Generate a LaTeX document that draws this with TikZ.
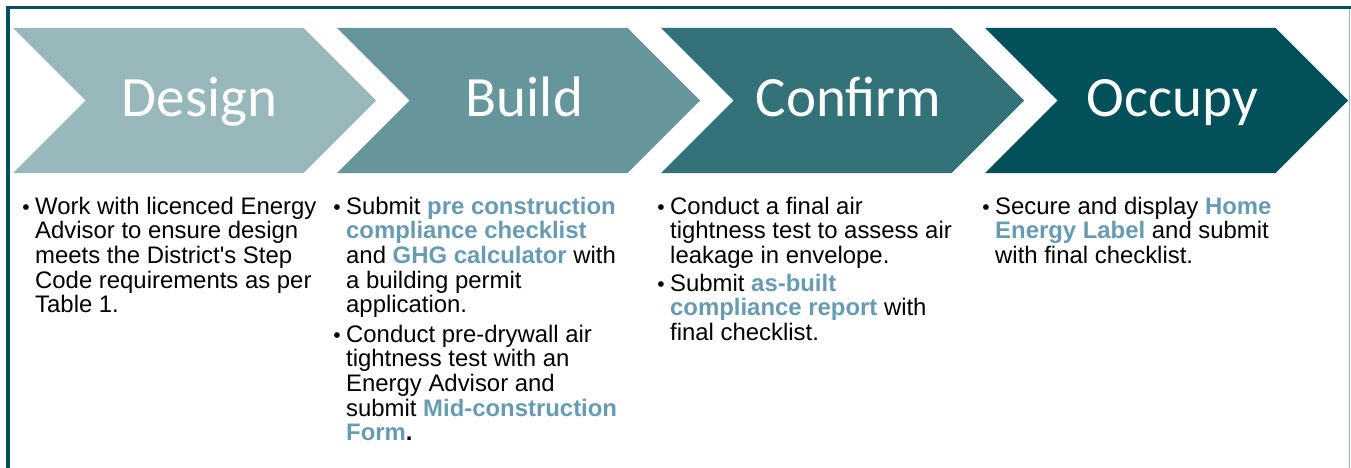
\documentclass[tikz,border=0pt]{standalone}
\usepackage{fontspec}
\setmainfont{Liberation Sans}
\newfontfamily\phasefont{Carlito}
\usepackage{tikz}
\usetikzlibrary{
  shapes.symbols,
  positioning
}
\definecolor{frameteal}{RGB}{2,80,90}
\definecolor{framegray}{RGB}{153,184,188}
\definecolor{designfill}{RGB}{153,184,188}
\definecolor{buildfill}{RGB}{102,149,155}
\definecolor{confirmfill}{RGB}{52,114,122}
\definecolor{occupyfill}{RGB}{2,80,90}
\definecolor{linkblue}{RGB}{102,155,178}
\newcommand{\hl}[1]{{\bfseries\color{linkblue}#1}}
\newcommand{\steplines}[1]{\begin{tabular}[t]{@{}l@{}}#1\end{tabular}}
\tikzset{
  x=1pt, y=-1pt,
  phase/.style={signal, signal from=west, signal to=east,
    signal pointer angle=90, minimum width=363pt, minimum height=145pt,
    inner sep=0pt, outer sep=0pt, draw=none},
  phasetext/.style={text=white, inner sep=0pt,
    font=\phasefont\fontsize{57}{60}\selectfont},
  body/.style={anchor=base west, inner sep=0pt,
    font=\fontsize{23.9}{24.6}\selectfont},
  dot/.style={inner sep=0pt, font=\fontsize{21}{24.6}\selectfont},
  node distance=5pt
}

\begin{document}
\begin{tikzpicture}
    \useasboundingbox (0,0) rectangle (1351,468);
    % frame
    \draw[frameteal, line width=4pt] (8,468) -- (8,6);
    \draw[frameteal, line width=3pt] (6,7.5) -- (1351,7.5);
    \draw[framegray, line width=1.2pt] (1349.5,9) -- (1349.5,468);
    % chevrons
    \node[phase, fill=designfill] (design) at (194.5,100.5) {};
    \node[phase, fill=buildfill] (build) at (518.5,100.5) {};
    \node[phase, fill=confirmfill] (confirm) at (842.5,100.5) {};
    \node[phase, fill=occupyfill] (occupy) at (1166.5,100.5) {};
    \node[phasetext, anchor=base] (designlbl) at ([xshift=5pt]design.center |- 0,117) {Design};
    \node[phasetext, anchor=base] (buildlbl) at ([xshift=6pt]build.center |- 0,117) {Build};
    \node[phasetext, anchor=base] (confirmlbl) at ([xshift=6pt]confirm.center |- 0,117) {Confirm};
    \node[phasetext, anchor=base] (occupylbl) at ([xshift=6pt]occupy.center |- 0,117) {Occupy};
    % steps
    \node[body] (d1) at (35,214) {\steplines{Work with licenced Energy\\Advisor to ensure design\\meets the District\textquotesingle s Step\\Code requirements as per\\Table 1.}};
    \node[body] (b1) at (346,214) {\steplines{Submit \hl{pre construction}\\\hl{compliance checklist}\\and \hl{GHG calculator} with\\a building permit\\application.}};
    \node[body] (b2) at (346,342) {\steplines{Conduct pre-drywall air\\tightness test with an\\Energy Advisor and\\submit \hl{Mid-construction}\\\hl{Form}{\bfseries .}}};
    \node[body] (c1) at (670,214) {\steplines{Conduct a final air\\tightness test to assess air\\leakage in envelope.}};
    \node[body] (c2) at (670,291) {\steplines{Submit \hl{as-built}\\\hl{compliance report} with\\final checklist.}};
    \node[body] (o1) at (995,214) {\steplines{Secure and display \hl{Home}\\\hl{Energy Label} and submit\\with final checklist.}};
    % bullets
    \node[dot, base left=of d1.base west] (d1dot) {\textbullet};
    \node[dot, base left=of b1.base west] (b1dot) {\textbullet};
    \node[dot, base left=of b2.base west] (b2dot) {\textbullet};
    \node[dot, base left=of c1.base west] (c1dot) {\textbullet};
    \node[dot, base left=of c2.base west] (c2dot) {\textbullet};
    \node[dot, base left=of o1.base west] (o1dot) {\textbullet};
\end{tikzpicture}
\end{document}
